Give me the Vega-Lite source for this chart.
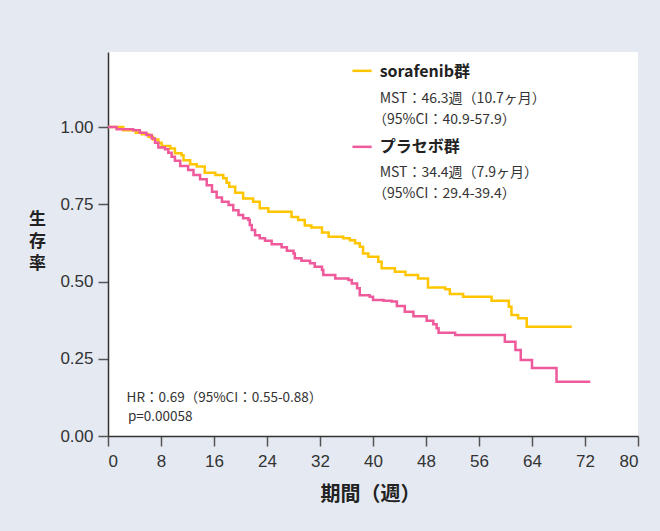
{
  "$schema": "https://vega.github.io/schema/vega-lite/v6.json",
  "width": 530,
  "height": 384,
  "autosize": {"type": "none"},
  "padding": {"left": 108, "top": 52, "right": 22, "bottom": 95},
  "background": "#e5eaf2",
  "config": {
    "view": {"fill": "white", "stroke": null},
    "font": "Noto Sans CJK JP"
  },
  "datasets": {
    "curves": [
      {"group": "sorafenib", "w": 0, "s": 1.0},
      {"group": "sorafenib", "w": 2.3, "s": 0.990},
      {"group": "sorafenib", "w": 4.2, "s": 0.982},
      {"group": "sorafenib", "w": 5.1, "s": 0.977},
      {"group": "sorafenib", "w": 6.1, "s": 0.969},
      {"group": "sorafenib", "w": 6.8, "s": 0.960},
      {"group": "sorafenib", "w": 7.6, "s": 0.949},
      {"group": "sorafenib", "w": 8.1, "s": 0.939},
      {"group": "sorafenib", "w": 9.4, "s": 0.931},
      {"group": "sorafenib", "w": 10.1, "s": 0.915},
      {"group": "sorafenib", "w": 11.1, "s": 0.909},
      {"group": "sorafenib", "w": 11.4, "s": 0.893},
      {"group": "sorafenib", "w": 12.4, "s": 0.880},
      {"group": "sorafenib", "w": 13.4, "s": 0.872},
      {"group": "sorafenib", "w": 14.6, "s": 0.852},
      {"group": "sorafenib", "w": 16.2, "s": 0.845},
      {"group": "sorafenib", "w": 17.4, "s": 0.834},
      {"group": "sorafenib", "w": 17.9, "s": 0.820},
      {"group": "sorafenib", "w": 18.3, "s": 0.807},
      {"group": "sorafenib", "w": 19.2, "s": 0.787},
      {"group": "sorafenib", "w": 20.4, "s": 0.769},
      {"group": "sorafenib", "w": 21.9, "s": 0.758},
      {"group": "sorafenib", "w": 22.9, "s": 0.737},
      {"group": "sorafenib", "w": 24.2, "s": 0.726},
      {"group": "sorafenib", "w": 27.7, "s": 0.709},
      {"group": "sorafenib", "w": 28.7, "s": 0.699},
      {"group": "sorafenib", "w": 29.7, "s": 0.681},
      {"group": "sorafenib", "w": 30.7, "s": 0.675},
      {"group": "sorafenib", "w": 32.3, "s": 0.659},
      {"group": "sorafenib", "w": 33.3, "s": 0.645},
      {"group": "sorafenib", "w": 35.5, "s": 0.640},
      {"group": "sorafenib", "w": 36.5, "s": 0.634},
      {"group": "sorafenib", "w": 37.3, "s": 0.624},
      {"group": "sorafenib", "w": 38.0, "s": 0.613},
      {"group": "sorafenib", "w": 38.5, "s": 0.591},
      {"group": "sorafenib", "w": 39.3, "s": 0.580},
      {"group": "sorafenib", "w": 40.8, "s": 0.564},
      {"group": "sorafenib", "w": 41.3, "s": 0.543},
      {"group": "sorafenib", "w": 43.3, "s": 0.532},
      {"group": "sorafenib", "w": 44.9, "s": 0.521},
      {"group": "sorafenib", "w": 46.8, "s": 0.510},
      {"group": "sorafenib", "w": 48.3, "s": 0.481},
      {"group": "sorafenib", "w": 50.9, "s": 0.475},
      {"group": "sorafenib", "w": 51.6, "s": 0.460},
      {"group": "sorafenib", "w": 53.6, "s": 0.451},
      {"group": "sorafenib", "w": 57.9, "s": 0.438},
      {"group": "sorafenib", "w": 60.5, "s": 0.418},
      {"group": "sorafenib", "w": 60.9, "s": 0.392},
      {"group": "sorafenib", "w": 61.9, "s": 0.381},
      {"group": "sorafenib", "w": 63.2, "s": 0.354},
      {"group": "sorafenib", "w": 70.0, "s": 0.354},
      {"group": "placebo", "w": 0, "s": 1.0},
      {"group": "placebo", "w": 1.3, "s": 0.993},
      {"group": "placebo", "w": 3.8, "s": 0.990},
      {"group": "placebo", "w": 4.8, "s": 0.982},
      {"group": "placebo", "w": 5.8, "s": 0.974},
      {"group": "placebo", "w": 6.6, "s": 0.963},
      {"group": "placebo", "w": 7.1, "s": 0.949},
      {"group": "placebo", "w": 7.6, "s": 0.934},
      {"group": "placebo", "w": 8.6, "s": 0.928},
      {"group": "placebo", "w": 9.1, "s": 0.917},
      {"group": "placebo", "w": 9.6, "s": 0.904},
      {"group": "placebo", "w": 10.1, "s": 0.891},
      {"group": "placebo", "w": 10.9, "s": 0.874},
      {"group": "placebo", "w": 12.1, "s": 0.861},
      {"group": "placebo", "w": 12.9, "s": 0.845},
      {"group": "placebo", "w": 13.9, "s": 0.831},
      {"group": "placebo", "w": 14.9, "s": 0.812},
      {"group": "placebo", "w": 15.7, "s": 0.791},
      {"group": "placebo", "w": 16.4, "s": 0.772},
      {"group": "placebo", "w": 17.2, "s": 0.758},
      {"group": "placebo", "w": 18.2, "s": 0.748},
      {"group": "placebo", "w": 18.9, "s": 0.731},
      {"group": "placebo", "w": 19.7, "s": 0.715},
      {"group": "placebo", "w": 20.4, "s": 0.705},
      {"group": "placebo", "w": 21.2, "s": 0.699},
      {"group": "placebo", "w": 21.4, "s": 0.683},
      {"group": "placebo", "w": 21.7, "s": 0.667},
      {"group": "placebo", "w": 22.2, "s": 0.650},
      {"group": "placebo", "w": 22.9, "s": 0.640},
      {"group": "placebo", "w": 23.7, "s": 0.632},
      {"group": "placebo", "w": 24.7, "s": 0.621},
      {"group": "placebo", "w": 26.2, "s": 0.611},
      {"group": "placebo", "w": 27.0, "s": 0.600},
      {"group": "placebo", "w": 28.0, "s": 0.591},
      {"group": "placebo", "w": 28.2, "s": 0.575},
      {"group": "placebo", "w": 29.2, "s": 0.567},
      {"group": "placebo", "w": 30.5, "s": 0.559},
      {"group": "placebo", "w": 31.2, "s": 0.548},
      {"group": "placebo", "w": 32.3, "s": 0.537},
      {"group": "placebo", "w": 32.5, "s": 0.521},
      {"group": "placebo", "w": 34.3, "s": 0.510},
      {"group": "placebo", "w": 36.3, "s": 0.505},
      {"group": "placebo", "w": 36.8, "s": 0.494},
      {"group": "placebo", "w": 37.6, "s": 0.478},
      {"group": "placebo", "w": 38.0, "s": 0.456},
      {"group": "placebo", "w": 39.5, "s": 0.451},
      {"group": "placebo", "w": 40.0, "s": 0.440},
      {"group": "placebo", "w": 41.6, "s": 0.438},
      {"group": "placebo", "w": 42.8, "s": 0.435},
      {"group": "placebo", "w": 43.6, "s": 0.421},
      {"group": "placebo", "w": 44.8, "s": 0.402},
      {"group": "placebo", "w": 46.1, "s": 0.388},
      {"group": "placebo", "w": 48.1, "s": 0.373},
      {"group": "placebo", "w": 49.1, "s": 0.362},
      {"group": "placebo", "w": 49.6, "s": 0.349},
      {"group": "placebo", "w": 49.9, "s": 0.334},
      {"group": "placebo", "w": 52.4, "s": 0.327},
      {"group": "placebo", "w": 59.9, "s": 0.305},
      {"group": "placebo", "w": 61.5, "s": 0.278},
      {"group": "placebo", "w": 62.3, "s": 0.246},
      {"group": "placebo", "w": 64.0, "s": 0.220},
      {"group": "placebo", "w": 67.7, "s": 0.176},
      {"group": "placebo", "w": 72.8, "s": 0.176}
    ],
    "keys": [
      {"group": "sorafenib", "x1": 36.9, "x2": 39.8, "y": 1.182},
      {"group": "placebo", "x1": 36.9, "x2": 39.8, "y": 0.936}
    ],
    "heads": [
      {"label": "sorafenib群", "x": 41.0, "y": 1.179},
      {"label": "プラセボ群", "x": 41.0, "y": 0.936}
    ],
    "details": [
      {"label": "MST：46.3週（10.7ヶ月）", "x": 41.0, "y": 1.090},
      {"label": "（95%CI：40.9-57.9）", "x": 40.0, "y": 1.023},
      {"label": "MST：34.4週（7.9ヶ月）", "x": 41.0, "y": 0.850},
      {"label": "（95%CI：29.4-39.4）", "x": 40.0, "y": 0.783}
    ],
    "stats": [
      {"label": "HR：0.69（95%CI：0.55-0.88）", "x": 2.8, "y": 0.122},
      {"label": "p=0.00058", "x": 3.0, "y": 0.0605}
    ]
  },
  "layer": [
    {
      "data": {"name": "curves"},
      "mark": {"type": "line", "interpolate": "step-after", "strokeWidth": 2.5, "strokeCap": "butt"},
      "encoding": {
        "x": {
          "field": "w", "type": "quantitative",
          "scale": {"domain": [0, 80], "nice": false},
          "axis": {
            "values": [0, 8, 16, 24, 32, 40, 48, 56, 64, 72, 80],
            "grid": false,
            "domainColor": "#333333", "domainWidth": 1.5,
            "tickColor": "#555555", "tickSize": 10, "tickWidth": 1.5,
            "labelFontSize": 17, "labelColor": "#333333", "labelPadding": 7,
            "labelFont": "Liberation Sans",
            "title": "期間（週）", "titleFontSize": 20, "titleFontWeight": "bold",
            "titleColor": "#222222", "titleX": 262, "titleY": 58,
            "titleAlign": "center", "titleBaseline": "middle"
          }
        },
        "y": {
          "field": "s", "type": "quantitative",
          "scale": {"domain": [0, 1.243], "nice": false},
          "axis": {
            "values": [0, 0.25, 0.5, 0.75, 1],
            "format": ".2f",
            "grid": false,
            "domainColor": "#333333", "domainWidth": 1.5,
            "tickColor": "#555555", "tickSize": 10, "tickWidth": 1.5,
            "labelFontSize": 17, "labelColor": "#333333", "labelPadding": 5,
            "labelFont": "Liberation Sans",
            "title": ["生", "存", "率"], "titleAngle": 0, "titleFontSize": 17,
            "titleFontWeight": "bold", "titleColor": "#222222",
            "titleX": -71, "titleY": 167, "titleAlign": "center",
            "titleBaseline": "middle", "titleLineHeight": 22
          }
        },
        "color": {
          "field": "group", "type": "nominal",
          "scale": {"domain": ["sorafenib", "placebo"], "range": ["#FFC600", "#EE5A9B"]},
          "legend": null
        }
      }
    },
    {
      "data": {"name": "keys"},
      "mark": {"type": "rule", "strokeWidth": 2.5},
      "encoding": {
        "x": {"field": "x1", "type": "quantitative"},
        "x2": {"field": "x2"},
        "y": {"field": "y", "type": "quantitative"},
        "color": {"field": "group", "type": "nominal", "legend": null}
      }
    },
    {
      "data": {"name": "heads"},
      "mark": {"type": "text", "align": "left", "baseline": "middle", "fontSize": 16, "fontWeight": "bold", "color": "#222222"},
      "encoding": {
        "x": {"field": "x", "type": "quantitative"},
        "y": {"field": "y", "type": "quantitative"},
        "text": {"field": "label"}
      }
    },
    {
      "data": {"name": "details"},
      "mark": {"type": "text", "align": "left", "baseline": "middle", "fontSize": 14, "color": "#333333"},
      "encoding": {
        "x": {"field": "x", "type": "quantitative"},
        "y": {"field": "y", "type": "quantitative"},
        "text": {"field": "label"}
      }
    },
    {
      "data": {"name": "stats"},
      "mark": {"type": "text", "align": "left", "baseline": "middle", "fontSize": 13.5, "color": "#333333"},
      "encoding": {
        "x": {"field": "x", "type": "quantitative"},
        "y": {"field": "y", "type": "quantitative"},
        "text": {"field": "label"}
      }
    }
  ]
}
